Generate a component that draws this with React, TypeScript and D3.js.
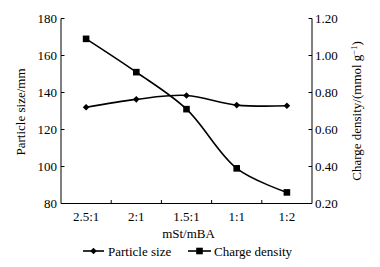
import React from "react";
import * as d3 from "d3";

const categories = ["2.5:1", "2:1", "1.5:1", "1:1", "1:2"];
const particleSize = [132, 136.3, 138.4, 133.2, 132.8];
const chargeDensity = [1.09, 0.91, 0.71, 0.39, 0.26];
const leftTicks = [80, 100, 120, 140, 160, 180];
const rightTicks = [0.2, 0.4, 0.6, 0.8, 1.0, 1.2];

const W = 380, H = 267;
const m = { left: 61, right: 312, top: 18.5, bottom: 203.5 };
const FONT = "Liberation Serif, Times New Roman, Times, DejaVu Serif, serif";

export default function App() {
  const x = d3.scaleBand<string>().domain(categories).range([m.left, m.right]);
  const yL = d3.scaleLinear().domain([80, 180]).range([m.bottom, m.top]);
  const yR = d3.scaleLinear().domain([0.2, 1.2]).range([m.bottom, m.top]);
  const cx = (c: string) => (x(c) as number) + x.bandwidth() / 2;

  const lineP = d3.line<number>().x((_, i) => cx(categories[i])).y((d) => yL(d)).curve(d3.curveCatmullRom.alpha(0.5));
  const lineC = d3.line<number>().x((_, i) => cx(categories[i])).y((d) => yR(d)).curve(d3.curveCatmullRom.alpha(0.5));

  const diamond = (px: number, py: number, s = 3.3) =>
    `M${px},${py - s}L${px + s},${py}L${px},${py + s}L${px - s},${py}Z`;

  const boundaries = categories.slice(1).map((c) => x(c) as number);

  return (
    <svg width={W} height={H} style={{ position: "absolute", left: 0, top: 0, background: "#fff", fontFamily: FONT, fontSize: "13px" }}>
      <path d={`M${m.left},${m.top}V${m.bottom}H${m.right}V${m.top}`} fill="none" stroke="#000" strokeWidth={1} />
      {leftTicks.map((t) => (
        <g key={"l" + t}>
          <line x1={m.left} x2={m.left + 3.5} y1={yL(t)} y2={yL(t)} stroke="#000" />
          <text x={m.left - 4} y={yL(t)} dy="0.35em" textAnchor="end">{t}</text>
        </g>
      ))}
      {rightTicks.map((t) => (
        <g key={"r" + t}>
          <line x1={m.right - 3.5} x2={m.right} y1={yR(t)} y2={yR(t)} stroke="#000" />
          <text x={m.right + 3} y={yR(t)} dy="0.35em" textAnchor="start">{t.toFixed(2)}</text>
        </g>
      ))}
      {boundaries.map((b, i) => (
        <line key={"b" + i} x1={b} x2={b} y1={m.bottom} y2={m.bottom - 3.5} stroke="#000" />
      ))}
      {categories.map((c) => (
        <text key={c} x={cx(c)} y={m.bottom + 17} textAnchor="middle">{c}</text>
      ))}
      <text x={(m.left + m.right) / 2 + 2} y={m.bottom + 34} textAnchor="middle">mSt/mBA</text>
      <text transform={`translate(25,${(m.top + m.bottom) / 2 + 1}) rotate(-90)`} textAnchor="middle">Particle size/mm</text>
      <text transform={`translate(361,${(m.top + m.bottom) / 2}) rotate(-90)`} textAnchor="middle">
        Charge density/(mmol g<tspan dy="-4" style={{ fontSize: "8.5px" }}>−1</tspan><tspan dy="4">)</tspan>
      </text>

      <path d={lineP(particleSize) ?? ""} fill="none" stroke="#000" strokeWidth={1.6} />
      <path d={lineC(chargeDensity) ?? ""} fill="none" stroke="#000" strokeWidth={1.6} />
      {particleSize.map((v, i) => (
        <path key={"p" + i} d={diamond(cx(categories[i]), yL(v))} fill="#000" />
      ))}
      {chargeDensity.map((v, i) => (
        <rect key={"c" + i} x={cx(categories[i]) - 3.3} y={yR(v) - 3.3} width={6.6} height={6.6} fill="#000" />
      ))}

      <g>
        <line x1={83} x2={104} y1={251} y2={251} stroke="#000" strokeWidth={1.6} />
        <path d={diamond(93.5, 251)} fill="#000" />
        <text x={108} y={251} dy="0.35em">Particle size</text>
        <line x1={188} x2={211} y1={251} y2={251} stroke="#000" strokeWidth={1.6} />
        <rect x={196.2} y={247.7} width={6.6} height={6.6} fill="#000" />
        <text x={214} y={251} dy="0.35em">Charge density</text>
      </g>
    </svg>
  );
}
